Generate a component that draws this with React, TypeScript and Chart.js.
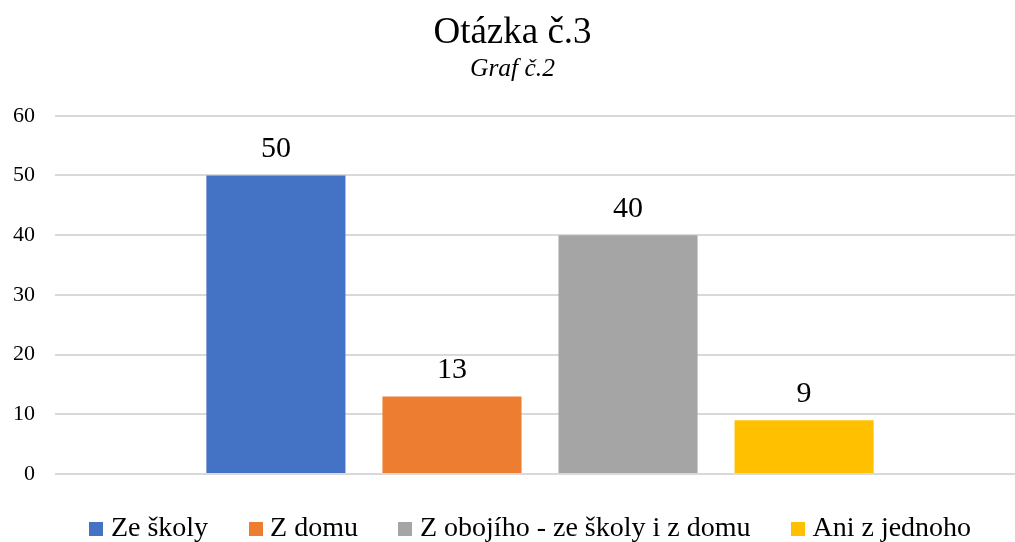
import React, { useEffect, useRef } from "react";
import { Chart, registerables } from "chart.js";

Chart.register(...registerables);

const categories = [""];
const seriesNames = ["Ze školy", "Z domu", "Z obojího - ze školy i z domu", "Ani z jednoho"];
const seriesValues = [50, 13, 40, 9];
const seriesColors = ["#4472C4", "#ED7D31", "#A5A5A5", "#FFC000"];
const yTicks = [0, 10, 20, 30, 40, 50, 60];
const titleText = "Otázka č.3";
const subtitleText = "Graf č.2";

const FONT = "'Liberation Serif', 'Times New Roman', serif";
const LEGEND_SHIFT = 21;

const dataLabelPlugin = {
  id: "dataLabels",
  afterDatasetsDraw(chart: any) {
    const ctx = chart.ctx;
    ctx.save();
    ctx.font = `30px ${FONT}`;
    ctx.fillStyle = "#000";
    ctx.textAlign = "center";
    ctx.textBaseline = "alphabetic";
    chart.data.datasets.forEach((ds: any, i: number) => {
      const meta = chart.getDatasetMeta(i);
      meta.data.forEach((bar: any, j: number) => {
        ctx.fillText(String(ds.data[j]), bar.x, bar.y - 18);
      });
    });
    ctx.restore();
  },
};

const legendShiftPlugin = {
  id: "legendShift",
  afterLayout(chart: any) {
    if (chart.legend) {
      chart.legend.left += LEGEND_SHIFT;
      chart.legend.right += LEGEND_SHIFT;
    }
  },
};

export default function App() {
  const ref = useRef<HTMLCanvasElement>(null);
  useEffect(() => {
    if (!ref.current) return;
    const boxes = seriesColors.map((c) => {
      const cv = document.createElement("canvas");
      cv.width = 14;
      cv.height = 14;
      const g = cv.getContext("2d")!;
      g.fillStyle = c;
      g.fillRect(0, 0, 14, 14);
      return cv;
    });
    const chart = new Chart(ref.current, {
      type: "bar",
      data: {
        labels: categories,
        datasets: seriesNames.map((name, i) => ({
          label: name,
          data: [seriesValues[i]],
          backgroundColor: seriesColors[i],
          borderWidth: 0,
          categoryPercentage: 0.726,
          barPercentage: 0.79,
        })),
      },
      options: {
        animation: false,
        responsive: false,
        layout: { padding: { left: 0, right: 20, top: 0, bottom: 0 } },
        plugins: {
          title: {
            display: true,
            text: titleText,
            color: "#000",
            font: { family: FONT, size: 37, weight: "normal", lineHeight: 1.1 },
            padding: { top: 13, bottom: 0 },
          },
          subtitle: {
            display: true,
            text: subtitleText,
            color: "#000",
            font: { family: FONT, size: 25.5, style: "italic", weight: "normal", lineHeight: 1.1 },
            padding: { top: 2, bottom: 32 },
          },
          legend: {
            position: "bottom",
            labels: {
              color: "#000",
              font: { family: FONT, size: 28 },
              usePointStyle: true,
              pointStyleWidth: 1,
              boxHeight: 14,
              padding: 33,
              generateLabels: (ch: any) => {
                const items = (Chart.defaults.plugins.legend.labels as any).generateLabels(ch);
                return items.map((it: any, i: number) => ({
                  ...it,
                  text: i < items.length - 1 ? it.text + "\u00A0\u00A0" : it.text,
                  pointStyle: boxes[i],
                }));
              },
            },
          },
          tooltip: { enabled: false },
        },
        scales: {
          x: {
            grid: { display: false },
            border: { display: false },
            ticks: { display: false },
          },
          y: {
            min: 0,
            max: 60,
            afterBuildTicks: (scale: any) => {
              scale.ticks = yTicks.map((v) => ({ value: v }));
            },
            afterFit: (scale: any) => {
              scale.width = 55;
            },
            grid: { color: "#D9D9D9", lineWidth: 2, drawTicks: false },
            border: { display: false },
            ticks: {
              color: "#000",
              font: { family: FONT, size: 22 },
              padding: 20,
            },
          },
        },
      },
      plugins: [dataLabelPlugin, legendShiftPlugin],
    });
    return () => chart.destroy();
  }, []);
  return (
    <div style={{ position: "fixed", left: 0, top: 0, width: 1015, height: 542, overflow: "hidden", background: "#fff" }}>
      <canvas ref={ref} width={1045} height={553} style={{ display: "block" }} />
    </div>
  );
}
